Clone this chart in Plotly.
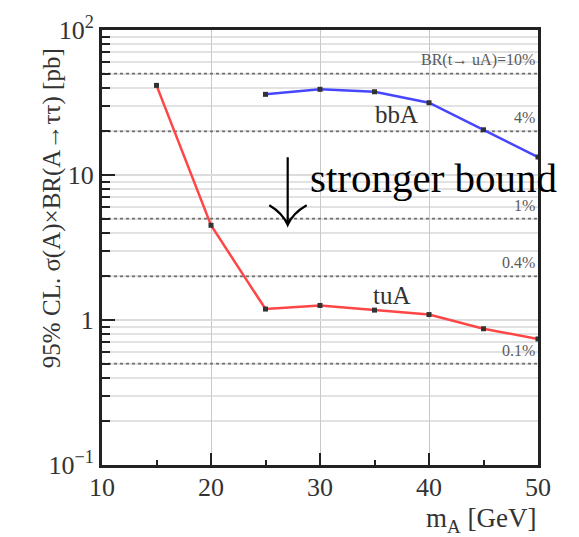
import math
import plotly.graph_objects as go

# Upper limits on sigma x BR [pb] versus the pseudoscalar mass m_A [GeV]
mass_tua = [15, 20, 25, 30, 35, 40, 45, 50]
limit_tua = [41.5, 4.5, 1.19, 1.26, 1.17, 1.09, 0.87, 0.74]

mass_bba = [25, 30, 35, 40, 45, 50]
limit_bba = [36.0, 39.0, 37.5, 31.5, 20.5, 13.3]

# Reference cross sections for fixed BR(t -> uA)
br_levels = [50, 20, 5, 2, 0.5]
br_labels = ["BR(t→ uA)=10%", "4%", "1%", "0.4%", "0.1%"]

x_ticks = [10, 20, 30, 40, 50]
x_minor = [15, 25, 35, 45]
y_ticks = [0.1, 1, 10, 100]
y_ticktext = ["10<sup>−1</sup>", "1", "10", "10<sup>2</sup>"]
y_minor = [m * d for d in (0.1, 1, 10) for m in range(2, 10)]

SERIF = "Liberation Serif"
W, H = 579, 537
ML, MR, MT, MB = 102, 41, 23, 72
PW, PH = W - ML - MR, H - MT - MB


def px(x):
    return (x - ML) / PW


def py(y):
    return (H - MB - y) / PH


fig = go.Figure()

# dotted reference lines
for lvl in br_levels:
    fig.add_trace(go.Scatter(
        x=[x_ticks[0], x_ticks[-1]], y=[lvl, lvl], mode="lines",
        line=dict(color="#707070", width=1.6, dash="dot"),
        hoverinfo="skip", showlegend=False,
    ))

fig.add_trace(go.Scatter(
    x=mass_bba, y=limit_bba, mode="lines+markers",
    line=dict(color="rgb(70,70,255)", width=2.5),
    marker=dict(symbol="square", size=5, color="#333333"),
    showlegend=False, cliponaxis=False,
))
fig.add_trace(go.Scatter(
    x=mass_tua, y=limit_tua, mode="lines+markers",
    line=dict(color="rgb(255,70,70)", width=2.5),
    marker=dict(symbol="square", size=5, color="#333333"),
    showlegend=False, cliponaxis=False,
))

annotations = []
# BR labels, right aligned just above each dotted line
for lvl, lab in zip(br_levels, br_labels):
    annotations.append(dict(
        x=1.0, xref="paper", y=math.log10(lvl), yref="y",
        text=lab, showarrow=False, xanchor="right", yanchor="bottom",
        yshift=3, xshift=-1,
        font=dict(family=SERIF, size=16, color="#5a5a5a"),
    ))

annotations += [
    dict(x=37.0, y=math.log10(26.0), xref="x", yref="y", text="bbA",
         showarrow=False, font=dict(family=SERIF, size=25, color="#333333")),
    dict(x=36.6, y=math.log10(1.48), xref="x", yref="y", text="tuA",
         showarrow=False, font=dict(family=SERIF, size=25, color="#333333")),
    dict(x=px(308), y=py(173), xref="paper", yref="paper", text="stronger bound",
         showarrow=False, xanchor="left", yanchor="middle",
         font=dict(family=SERIF, size=41, color="black")),
    dict(x=px(36), y=py(204), xref="paper", yref="paper",
         text="95% CL. σ(A)×BR(A→ττ) [pb]", textangle=-90, showarrow=False,
         font=dict(family=SERIF, size=25, color="#333333")),
    dict(x=1.0, y=py(521), xref="paper", yref="paper",
         text="m<sub>A</sub> [GeV]", showarrow=False, xanchor="right",
         yanchor="middle", font=dict(family=SERIF, size=27, color="#333333")),
]

# downward arrow with curved barbs
ax, top, tip = 287.7, 152.3, 221.0
bl, br_, by = 269.3, 306.7, 201.0
arrow_path = (
    f"M {px(ax)} {py(top)} L {px(ax)} {py(tip)} "
    f"M {px(bl)} {py(by)} Q {px(ax - 5)} {py(tip - 12)} {px(ax)} {py(tip)} "
    f"Q {px(ax + 5)} {py(tip - 12)} {px(br_)} {py(by)}"
)
shapes = [dict(type="path", xref="paper", yref="paper", path=arrow_path,
               line=dict(color="black", width=2.2))]

fig.update_layout(
    width=W, height=H,
    margin=dict(l=ML, r=MR, t=MT, b=MB),
    plot_bgcolor="white", paper_bgcolor="white",
    annotations=annotations, shapes=shapes,
    xaxis=dict(
        range=[10, 50], tickmode="array", tickvals=x_ticks,
        ticks="inside", ticklen=12, tickwidth=2, tickcolor="#222222",
        showline=True, linecolor="#222222", linewidth=3, mirror=True,
        showgrid=True, gridcolor="#c8c8c8", gridwidth=1,
        zeroline=False, ticklabelstandoff=-3,
        tickfont=dict(family=SERIF, size=26, color="#333333"),
        minor=dict(tickmode="array", tickvals=x_minor, ticks="inside",
                   ticklen=5, tickwidth=2, tickcolor="#222222", showgrid=False),
    ),
    yaxis=dict(
        type="log", range=[-1, 2], tickmode="array", tickvals=y_ticks,
        ticktext=y_ticktext,
        ticks="inside", ticklen=13, tickwidth=2, tickcolor="#222222",
        showline=True, linecolor="#222222", linewidth=3, mirror=True,
        showgrid=True, gridcolor="#dcdcdc", gridwidth=2,
        zeroline=False,
        tickfont=dict(family=SERIF, size=26, color="#333333"),
        minor=dict(tickmode="array", tickvals=y_minor, ticks="inside",
                   ticklen=8, tickwidth=2, tickcolor="#222222",
                   showgrid=True, gridcolor="#e2e2e2", gridwidth=2),
    ),
)

fig.write_html("out.html")
